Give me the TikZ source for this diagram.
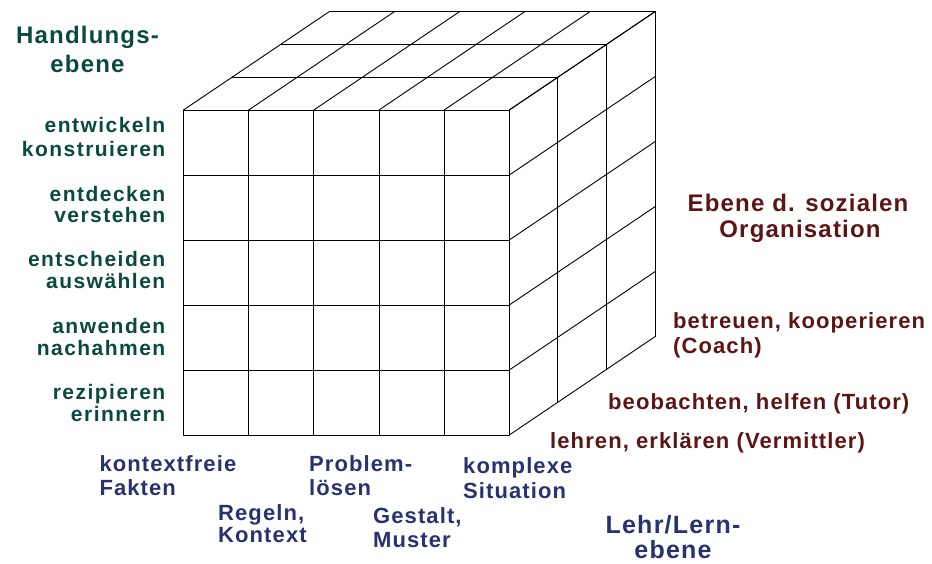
\documentclass[tikz,border=0pt]{standalone}
\usepackage{fontspec}
\setmainfont{Liberation Sans}
\newfontfamily\fLeft{Liberation Sans}[LetterSpace=7]
\newfontfamily\fHead{Liberation Sans}[LetterSpace=5]
\newfontfamily\fRight{Liberation Sans}[LetterSpace=5]
\newfontfamily\fBottom{Liberation Sans}[LetterSpace=5]
\definecolor{hgreen}{RGB}{10,74,62}
\definecolor{smaroon}{RGB}{92,20,20}
\definecolor{lnavy}{RGB}{40,50,112}
\tikzset{
  grid line/.style={draw=black, line width=0.9pt, line cap=round, line join=round},
  headgreen/.style={font=\fHead\bfseries\fontsize{24}{28}\selectfont, text=hgreen, inner sep=0pt, anchor=base},
  leftlab/.style={font=\fLeft\bfseries\fontsize{21}{24}\selectfont, text=hgreen, inner sep=0pt, anchor=base east},
  headmaroon/.style={font=\fRight\bfseries\fontsize{24}{28}\selectfont, text=smaroon, inner sep=0pt, anchor=base},
  rightlab/.style={font=\fRight\bfseries\fontsize{22}{26}\selectfont, text=smaroon, inner sep=0pt, anchor=base west},
  botlab/.style={font=\fBottom\bfseries\fontsize{22}{26}\selectfont, text=lnavy, inner sep=0pt, anchor=base west},
  headnavy/.style={font=\fBottom\bfseries\fontsize{25}{28}\selectfont, text=lnavy, inner sep=0pt, anchor=base},
}
\begin{document}
\begin{tikzpicture}[x=1pt,y=-1pt]
\useasboundingbox (0,0) rectangle (932,563);
% cube parameters
\def\Xo{183.5}\def\Yo{435}\def\cw{65.16}\def\rh{65}\def\dx{48.6}\def\dy{32.8}
% front face
\foreach \i in {0,...,5}{
  \draw[grid line] ({\Xo+\i*\cw},{\Yo-5*\rh}) -- ({\Xo+\i*\cw},\Yo);
  \draw[grid line] (\Xo,{\Yo-\i*\rh}) -- ({\Xo+5*\cw},{\Yo-\i*\rh});
}
% top face
\foreach \k in {1,2,3}{
  \draw[grid line] ({\Xo+\k*\dx},{\Yo-5*\rh-\k*\dy}) -- ({\Xo+5*\cw+\k*\dx},{\Yo-5*\rh-\k*\dy});
}
\foreach \i in {0,...,5}{
  \draw[grid line] ({\Xo+\i*\cw},{\Yo-5*\rh}) -- ({\Xo+\i*\cw+3*\dx},{\Yo-5*\rh-3*\dy});
}
% right face
\foreach \k in {1,2,3}{
  \draw[grid line] ({\Xo+5*\cw+\k*\dx},{\Yo-5*\rh-\k*\dy}) -- ({\Xo+5*\cw+\k*\dx},{\Yo-\k*\dy});
}
\foreach \j in {0,...,5}{
  \draw[grid line] ({\Xo+5*\cw},{\Yo-\j*\rh}) -- ({\Xo+5*\cw+3*\dx},{\Yo-\j*\rh-3*\dy});
}
% Handlungsebene
\node[headgreen] (h1) at (87.5,43) {Handlungs-};
\node[headgreen] (h2) at (87.5,72) {ebene};
\node[leftlab] (a1) at (165.5,132.5) {entwickeln};
\node[leftlab] (a2) at (165.5,156) {konstruieren};
\node[leftlab] (b1) at (165.5,201.5) {entdecken};
\node[leftlab] (b2) at (165.5,222.5) {verstehen};
\node[leftlab] (c1) at (165.5,266.5) {entscheiden};
\node[leftlab] (c2) at (165.5,288) {auswählen};
\node[leftlab] (d1) at (165.5,333) {anwenden};
\node[leftlab] (d2) at (165.5,355) {nachahmen};
\node[leftlab] (e1) at (165.5,399) {rezipieren};
\node[leftlab] (e2) at (165.5,421.5) {erinnern};
% soziale Organisation
\node[headmaroon] (s1) at (798,211) {Ebene d. sozialen};
\node[headmaroon] (s2) at (800,237) {Organisation};
\node[rightlab] (r1) at (673,328) {betreuen, kooperieren};
\node[rightlab] (r2) at (673,353) {(Coach)};
\node[rightlab] (r3) at (608,409) {beobachten, helfen (Tutor)};
\node[rightlab] (r4) at (550,448) {lehren, erklären (Vermittler)};
% Lehr/Lernebene
\node[botlab] (k1) at (99.3,471.7) {kontextfreie};
\node[botlab] (k2) at (99.3,495) {Fakten};
\node[botlab] (p1) at (309,471.7) {Problem-};
\node[botlab] (p2) at (309,495) {lösen};
\node[botlab] (g1) at (218,520) {Regeln,};
\node[botlab] (g2) at (218,542) {Kontext};
\node[botlab] (m1) at (373,523) {Gestalt,};
\node[botlab] (m2) at (373,547) {Muster};
\node[botlab] (x1) at (463,473) {komplexe};
\node[botlab] (x2) at (463,498) {Situation};
\node[headnavy] (l1) at (673,533) {Lehr/Lern-};
\node[headnavy] (l2) at (673,558) {ebene};
\end{tikzpicture}
\end{document}
